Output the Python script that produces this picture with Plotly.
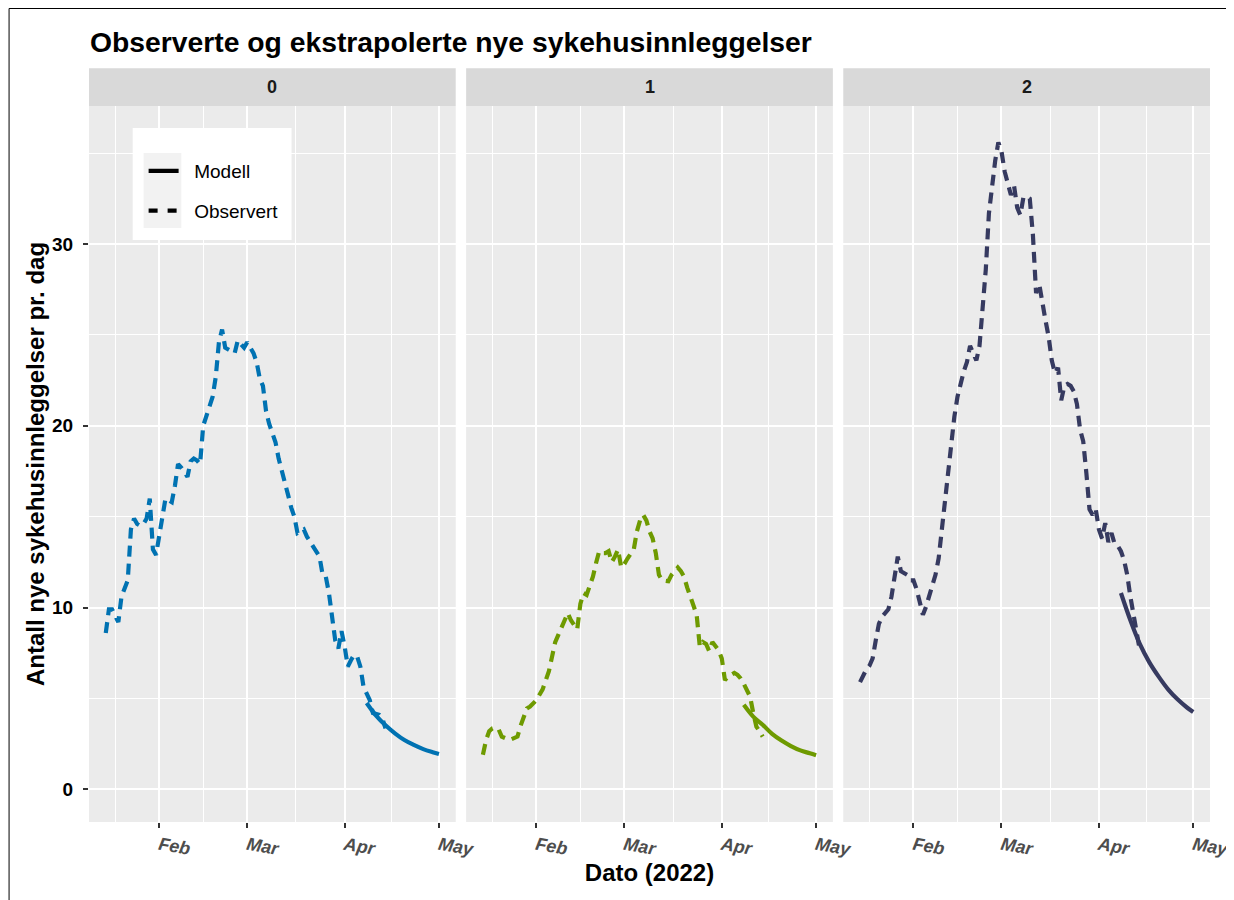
import pandas as pd
import plotly.graph_objects as go
from plotly.subplots import make_subplots

# ---------------- data ----------------
panels = ["0", "1", "2"]
colors = ["#0072B2", "#6E9A00", "#363A60"]

obs_start = "2022-01-15"
obs0 = [8.6, 9.9, 9.9, 9.6, 9.2, 10.6, 11.0, 11.5, 14.3, 14.9, 14.6, 14.5, 14.6, 14.9, 16.0, 13.2, 12.9,
        14.0, 15.0, 16.0, 15.9, 15.8, 16.7, 17.9, 17.7, 17.4, 17.2, 18.05, 18.2, 18.1, 17.9, 20.0, 20.6,
        21.1, 21.6, 22.7, 24.6, 25.3, 24.3, 24.2, 24.1, 24.0, 24.7, 24.5, 24.3, 24.6, 24.3, 24.0, 23.5,
        22.6, 22.2, 20.8, 20.1, 19.5, 19.1, 18.2, 17.6, 17.0, 16.2, 15.5, 15.0, 14.1, 14.2, 14.3, 13.9,
        13.6, 13.3, 13.0, 12.8, 11.8, 11.7, 10.8, 9.3, 8.2, 7.75, 8.7, 7.85, 6.75, 7.1, 7.4, 7.3, 6.75,
        5.65, 5.2, 4.9, 4.2, 4.15, 4.1, 3.9, 3.35]
obs1 = [1.9, 2.7, 3.2, 3.35, 3.4, 3.3, 2.9, 2.8, 2.75, 2.75, 2.8, 2.9, 3.5, 4.0, 4.45, 4.55, 4.7,
        4.9, 5.2, 5.5, 6.0, 6.5, 7.3, 8.1, 8.5, 8.95, 9.3, 9.7, 9.3, 9.0, 8.8, 10.2, 10.8, 10.7, 11.15,
        11.7, 12.45, 13.1, 13.0, 13.0, 13.1, 12.5, 12.8, 13.2, 12.2, 12.4, 12.7, 13.0, 13.2, 14.2, 14.8,
        15.1, 14.8, 14.2, 13.8, 13.0, 11.8, 11.5, 11.45, 11.45, 11.8, 12.0, 12.2, 12.0, 11.7, 11.1, 10.6,
        10.0, 9.6, 7.85, 8.1, 8.0, 7.6, 8.1, 7.9, 7.65, 7.2, 6.0, 6.2, 6.3, 6.4, 6.3, 6.1, 5.8, 5.4,
        5.1, 4.2, 3.45, 3.2, 2.9]
obs2 = [5.9, 6.3, 6.6, 6.8, 7.2, 8.2, 9.1, 9.5, 9.7, 9.9, 10.6, 11.9, 12.8, 12.0, 11.9, 11.8, 11.5,
        11.5, 11.0, 10.2, 9.6, 10.05, 10.6, 11.2, 11.8, 12.7, 14.3, 15.5, 17.4, 19.2, 20.5, 21.6, 22.4,
        23.0, 23.5, 24.4, 24.0, 23.6, 24.4, 26.6, 28.6, 31.7, 33.4, 34.6, 35.6, 35.1, 34.0, 33.3, 32.7,
        33.2, 32.0, 31.6, 32.6, 32.6, 32.5, 30.5, 27.3, 27.8, 26.6, 25.8, 24.9, 23.6, 22.9, 23.2, 21.4,
        22.2, 22.3, 22.2, 21.9, 21.2, 19.8, 19.15, 17.4, 15.4, 15.1, 15.4, 14.3, 13.8, 14.65, 13.6, 14.1,
        13.5, 13.4, 13.1, 12.6, 11.8, 10.6, 9.7, 8.8, 7.65]

model_dates = ["2022-04-08", "2022-04-11", "2022-04-14", "2022-04-17", "2022-04-20",
               "2022-04-23", "2022-04-26", "2022-04-29", "2022-05-01"]
model0 = [4.75, 4.05, 3.52, 3.08, 2.71, 2.44, 2.21, 2.04, 1.94]
model1 = [4.65, 4.00, 3.55, 3.05, 2.68, 2.38, 2.14, 1.98, 1.87]
model2 = [10.8, 9.3, 8.0, 7.0, 6.2, 5.5, 4.95, 4.5, 4.25]

x_tickvals = ["2022-02-01", "2022-03-01", "2022-04-01", "2022-05-01"]
x_ticktext = ["Feb", "Mar", "Apr", "May"]
x_minor = ["2022-01-18", "2022-02-15", "2022-03-16 12:00", "2022-04-16"]
y_tickvals = [0, 10, 20, 30]
y_minor = [5, 15, 25, 35]

title = "Observerte og ekstrapolerte nye sykehusinnleggelser"
ytitle = "Antall nye sykehusinnleggelser pr. dag"
xtitle = "Dato (2022)"
legend_names = ["Modell", "Observert"]

# ---------------- figure ----------------
obs_dates = pd.date_range(obs_start, periods=len(obs0), freq="D")
observed = [obs0, obs1, obs2]
models = [model0, model1, model2]

W, H = 1234, 900
ML, MR, MT, MB = 81, 24, 98, 86
PW = W - ML - MR
PH = H - MT - MB
gap = 10.5
hs = gap / PW

fig = make_subplots(rows=1, cols=3, shared_yaxes=True, horizontal_spacing=hs)

FONT = "Liberation Sans, Arial, Helvetica, sans-serif"
DASH = "11px,7px"
LW = 4.2
NBSP = "\u00a0\u00a0"

for i in range(3):
    fig.add_trace(go.Scatter(x=model_dates, y=models[i], mode="lines", line_shape="spline",
                             line=dict(color=colors[i], width=LW), showlegend=False,
                             name=legend_names[0] + " " + panels[i]), row=1, col=i + 1)
    fig.add_trace(go.Scatter(x=obs_dates, y=observed[i], mode="lines",
                             line=dict(color=colors[i], width=LW, dash=DASH), showlegend=False,
                             name=legend_names[1] + " " + panels[i]), row=1, col=i + 1)

# legend-only traces (black)
fig.add_trace(go.Scatter(x=[None], y=[None], mode="lines", name=NBSP + legend_names[0],
                         line=dict(color="black", width=LW), legendgroup="a"), row=1, col=1)
fig.add_trace(go.Scatter(x=[None], y=[None], mode="lines", name=NBSP + legend_names[1],
                         line=dict(color="black", width=LW, dash="9px,10px"), legendgroup="b"), row=1, col=1)

xr = ["2022-01-09 16:00", "2022-05-06 08:00"]
for i in range(3):
    fig.update_xaxes(
        row=1, col=i + 1, range=xr, type="date",
        tickmode="array", tickvals=x_tickvals, ticktext=x_ticktext,
        ticks="outside", ticklen=5, tickwidth=1.5, tickcolor="#333333",
        tickangle=10,
        tickfont=dict(family=FONT, size=18, color="#4D4D4D", weight="bold", style="italic"),
        showgrid=True, gridcolor="white", gridwidth=1.6,
        minor=dict(tickmode="array", tickvals=x_minor, showgrid=True, gridcolor="white",
                   gridwidth=0.8, ticks=""),
        zeroline=False, showline=False,
    )
fig.update_yaxes(
    range=[-1.8, 37.6], tickmode="array", tickvals=y_tickvals,
    ticks="outside", ticklen=5, tickwidth=1.5, tickcolor="#333333",
    tickfont=dict(family=FONT, size=19, color="black", weight="bold"),
    showgrid=True, gridcolor="white", gridwidth=1.6,
    minor=dict(tickmode="array", tickvals=y_minor, showgrid=True, gridcolor="white",
               gridwidth=0.8, ticks=""),
    zeroline=False, showline=False,
)
for c in (2, 3):
    fig.update_yaxes(row=1, col=c, ticks="", showticklabels=False)
fig.update_yaxes(row=1, col=1, ticklabelstandoff=6,
                 title=dict(text=ytitle, standoff=0,
                            font=dict(family=FONT, size=24, color="black", weight="bold")))
fig.update_xaxes(row=1, col=2, title=dict(text=xtitle, standoff=4,
                 font=dict(family=FONT, size=24, color="black", weight="bold")))

# strips
shapes = []
annotations = []
strip_top = 1 + (MT - 60.3) / PH
for i in range(3):
    xa = fig.layout["xaxis" + ("" if i == 0 else str(i + 1))]
    d0, d1 = xa.domain
    shapes.append(dict(type="rect", xref="paper", yref="paper", x0=d0, x1=d1, y0=1.0, y1=strip_top,
                       fillcolor="#D9D9D9", line=dict(width=0), layer="below"))
    annotations.append(dict(text=panels[i], xref="paper", yref="paper", x=(d0 + d1) / 2,
                            y=(1 + strip_top) / 2, showarrow=False, xanchor="center", yanchor="middle",
                            font=dict(family=FONT, size=18, color="#1A1A1A", weight="bold")))


def px(xp):
    return (xp - ML) / PW


def py(yp):
    return 1 - (yp - MT) / PH


# legend box + key background
shapes.append(dict(type="rect", xref="paper", yref="paper", x0=px(125), x1=px(285), y0=py(232), y1=py(120),
                   fillcolor="white", line=dict(width=0), layer="above"))
shapes.append(dict(type="rect", xref="paper", yref="paper", x0=px(136), x1=px(174), y0=py(220), y1=py(145),
                   fillcolor="#F2F2F2", line=dict(width=0), layer="above"))
# outer frame of the figure
shapes.append(dict(type="rect", xref="paper", yref="paper", x0=px(0.5), x1=px(W - 0.5),
                   y0=py(H - 0.5), y1=py(0.5), line=dict(color="black", width=1),
                   fillcolor="rgba(0,0,0,0)", layer="above"))

fig.update_layout(
    width=W, height=H,
    margin=dict(l=ML, r=MR, t=MT, b=MB),
    paper_bgcolor="white", plot_bgcolor="#EBEBEB",
    font=dict(family=FONT, color="black"),
    title=dict(text=title, x=px(82), xref="paper", xanchor="left", y=1 - 34 / H, yanchor="middle",
               font=dict(family=FONT, size=28.3, color="black", weight="bold")),
    shapes=shapes, annotations=annotations,
    showlegend=True,
    legend=dict(x=px(136), y=py(144), xanchor="left", yanchor="top", bgcolor="rgba(0,0,0,0)",
                borderwidth=0, font=dict(family=FONT, size=19, color="black"),
                traceorder="grouped", tracegroupgap=12, itemwidth=30),
)

fig.write_html("out.html")
